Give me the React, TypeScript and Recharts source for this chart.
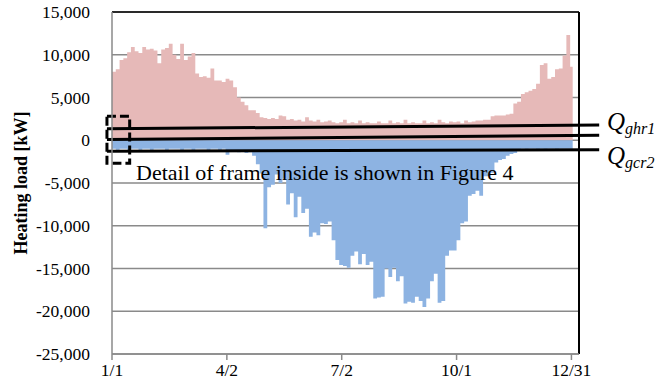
import {
  AreaChart,
  Area,
  XAxis,
  YAxis,
  CartesianGrid,
  ReferenceLine,
  ReferenceArea,
} from 'recharts';

// hourly load envelope, sampled in 3-day bins from 1/1
const heatLoad = [
  8000, 8300, 9400, 9600, 10300, 10900, 10400, 10200, 10900, 10600,
  10700, 10500, 9000, 10600, 10800, 11300, 10000, 9500, 11300, 9400,
  9800, 10200, 7800, 7400, 7500, 7300, 8400, 7000, 7000, 6800,
  7200, 7000, 6200, 5000, 4500, 4100, 3500, 3500, 3200, 2700,
  2600, 2500, 2600, 2500, 2900, 2800, 2400, 2500, 2300, 2400,
  2200, 2700, 2300, 2200, 2400, 2100, 2200, 2300, 2100, 2000,
  2100, 2400, 2000, 2100, 2000, 2300, 2000, 2100, 2000, 2000,
  2200, 2000, 2000, 2300, 2000, 2100, 2000, 2400, 2000, 2100,
  2000, 2000, 2300, 2000, 2100, 2000, 2400, 2100, 2000, 2200,
  2100, 2200, 2000, 2300, 2100, 2200, 2300, 2300, 2400, 2400,
  2800, 2900, 2900, 2900, 3000, 3100, 4300, 4500, 5400, 5600,
  5800, 6000, 6600, 8800, 9000, 7200, 7400, 8300, 8400, 9900,
  12300, 8600,
];

const coolLoad = [
  -1000, -1100, -1000, -1000, -1100, -1000, -1000, -1100, -1000, -1000,
  -1100, -1000, -1000, -1000, -1100, -1000, -1000, -1000, -1100, -1000,
  -1000, -1100, -1000, -1000, -1000, -1100, -1000, -1000, -1100, -1000,
  -1700, -1300, -1200, -1400, -1300, -1500, -1400, -1800, -2800, -3900,
  -10300, -5500, -5200, -4000, -5000, -4500, -7500, -6200, -9000, -6600,
  -8500, -8000, -11300, -10800, -11100, -9700, -9800, -9500, -11700, -14000,
  -14600, -14700, -14900, -13500, -13000, -14500, -13300, -14600, -14200, -18500,
  -18400, -18300, -15000, -16000, -14900, -16500, -15900, -19100, -18900, -19000,
  -18300, -18800, -19500, -18500, -16500, -15600, -19000, -18800, -13500, -12900,
  -12900, -11700, -9700, -9500, -6500, -6300, -5900, -6500, -4200, -4200,
  -3800, -2600, -2300, -2200, -1800, -1600, -1500, -1100, -1000, -1200,
  -1000, -1000, -1100, -1000, -1200, -1000, -1000, -1100, -1000, -1000,
  -1000, -1000,
];

const dateTicks = [0, 91, 182, 273, 364];
const dateLabels = ['1/1', '4/2', '7/2', '10/1', '12/31'];
const loadTicks = [-25000, -20000, -15000, -10000, -5000, 0, 5000, 10000, 15000];

const BIN_DAYS = 3;
const YEAR_END = 365;

const data = heatLoad.map((heat, i) => ({ day: i * BIN_DAYS, heat, cool: coolLoad[i] }));
// close the last step at year end
data.push({ day: YEAR_END, heat: heatLoad[heatLoad.length - 1], cool: coolLoad[coolLoad.length - 1] });

const SERIF = 'Liberation Serif';
const GRID = '#8a8a8a';

const DateTick = (props: any) => {
  const { x, y, payload } = props;
  return (
    <text x={x} y={y + 14} textAnchor="middle" fontFamily={SERIF} fontSize={17.5} fill="#000">
      {dateLabels[dateTicks.indexOf(payload.value)]}
    </text>
  );
};

const LoadTick = (props: any) => {
  const { x, y, payload } = props;
  return (
    <text x={x} y={y + 6} textAnchor="end" fontFamily={SERIF} fontSize={17.5} fill="#000">
      {Number(payload.value).toLocaleString('en-US')}
    </text>
  );
};

// texts drawn on top of the plot
const Annotations = () => (
  <svg
    width={657}
    height={391}
    style={{ position: 'absolute', left: 0, top: 0, pointerEvents: 'none' }}
  >
    <text
      transform="translate(27,183) rotate(-90)"
      textAnchor="middle"
      fontSize={18}
      fontWeight="bold"
      fontFamily={SERIF}
    >
      Heating load [kW]
    </text>
    <text x={136} y={180} fontSize={22} fontFamily={SERIF}>
      Detail of frame inside is shown in Figure 4
    </text>
    <text x={607} y={130} fontSize={25} fontStyle="italic" fontFamily={SERIF}>
      Q
      <tspan fontSize={16} dy={4} fontFamily={SERIF} fontStyle="italic">ghr</tspan>
      <tspan fontSize={16} fontFamily={SERIF}>1</tspan>
    </text>
    <text x={607} y={164} fontSize={25} fontStyle="italic" fontFamily={SERIF}>
      Q
      <tspan fontSize={16} dy={4} fontFamily={SERIF} fontStyle="italic">gcr</tspan>
      <tspan fontSize={16} fontFamily={SERIF}>2</tspan>
    </text>
  </svg>
);

export default function App() {
  return (
    <div
      style={{
        position: 'absolute',
        left: 0,
        top: 0,
        width: 657,
        height: 391,
        background: '#fff',
      }}
    >
      <AreaChart
        width={657}
        height={391}
        data={data}
        margin={{ top: 12, right: 78, bottom: 7, left: 0 }}
      >
        <CartesianGrid vertical={false} stroke={GRID} strokeWidth={1.5} />
        <XAxis
          dataKey="day"
          type="number"
          domain={[0, 370]}
          ticks={dateTicks}
          height={30}
          stroke={GRID}
          strokeWidth={1.5}
          tickSize={6}
          tickMargin={2}
          tick={<DateTick />}
          allowDataOverflow
        />
        <YAxis
          type="number"
          domain={[-25000, 15000]}
          ticks={loadTicks}
          width={112}
          stroke={GRID}
          strokeWidth={1.5}
          tickLine={false}
          tickSize={0}
          tickMargin={22}
          tick={<LoadTick />}
        />
        <Area
          type="stepAfter"
          dataKey="heat"
          baseValue={0}
          fill="#e6b9b8"
          fillOpacity={1}
          stroke="none"
          isAnimationActive={false}
        />
        <Area
          type="stepAfter"
          dataKey="cool"
          baseValue={0}
          fill="#8db3e2"
          fillOpacity={1}
          stroke="none"
          isAnimationActive={false}
        />
        <ReferenceLine y={15000} stroke="#000" strokeWidth={1.5} />
        <ReferenceLine x={370} stroke="#000" strokeWidth={2} />
        <ReferenceLine
          segment={[{ x: -4, y: 1345 }, { x: 386, y: 1780 }]}
          stroke="#000"
          strokeWidth={3}
          ifOverflow="visible"
        />
        <ReferenceLine
          segment={[{ x: -4, y: 95 }, { x: 386, y: 585 }]}
          stroke="#000"
          strokeWidth={3}
          ifOverflow="visible"
        />
        <ReferenceLine
          segment={[{ x: -4, y: -1290 }, { x: 386, y: -1110 }]}
          stroke="#000"
          strokeWidth={3}
          ifOverflow="visible"
        />
        <ReferenceArea
          x1={-4}
          x2={14}
          y1={-2700}
          y2={2800}
          fill="none"
          fillOpacity={0}
          stroke="#000"
          strokeWidth={3}
          strokeDasharray="9 4"
          ifOverflow="visible"
        />
      </AreaChart>
      <Annotations />
    </div>
  );
}
